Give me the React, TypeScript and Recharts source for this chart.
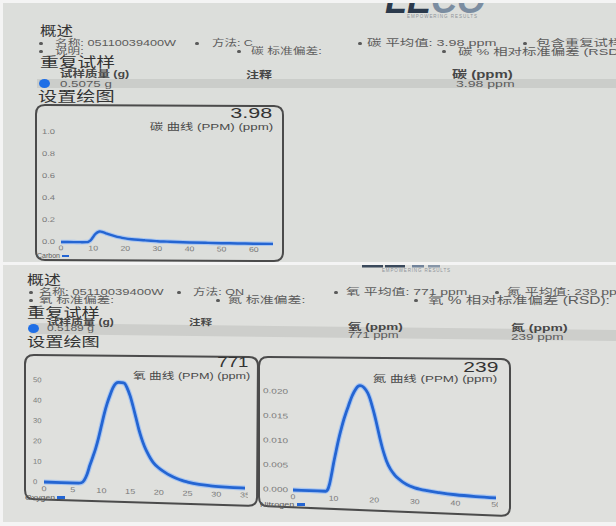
import React from 'react';
import { LineChart, Line, XAxis, YAxis } from 'recharts';

const FONT = '"Liberation Sans", "Noto Sans CJK SC", Arial, sans-serif';
const W = 616;
const H = 526;

// ---- Carbon (碳) trace ----
const carbonTime = [0, 2, 4, 6, 8, 8.5, 9, 9.5, 10, 10.5, 11, 11.5, 12, 12.5, 13, 14, 15, 16, 17, 18, 19, 20, 22, 24, 26, 28, 30, 33, 36, 40, 45, 50, 55, 60, 66];
const carbonPpm = [0, 0, 0, 0, 0.001, 0.004, 0.012, 0.028, 0.048, 0.068, 0.083, 0.093, 0.098, 0.097, 0.093, 0.083, 0.073, 0.064, 0.056, 0.049, 0.043, 0.038, 0.031, 0.026, 0.022, 0.018, 0.015, 0.012, 0.009, 0.006, 0.004, 0.002, 0.001, 0, 0];
const carbonXTicks = [0, 10, 20, 30, 40, 50, 60];
const carbonYTicks = [0, 0.2, 0.4, 0.6, 0.8, 1.0];

// ---- Oxygen (氧) trace ----
const oxygenTime = [0, 3, 6, 6.5, 7, 7.5, 8, 8.5, 9, 9.5, 10, 10.5, 11, 11.5, 12, 12.5, 13, 13.5, 14, 14.5, 15, 15.5, 16, 16.5, 17, 17.5, 18, 18.5, 19, 20, 21, 22, 23, 24, 25, 27, 29, 31, 33, 35];
const oxygenPpm = [0, 0, 0, 0.2, 1.5, 4.5, 9, 13, 17.3, 22.5, 28.5, 34.5, 39.5, 43.6, 47.2, 49.4, 50, 49.9, 49.6, 47.2, 43.5, 38.5, 33, 27.4, 22.8, 19, 16, 13.4, 11.3, 8.6, 6.7, 5.1, 3.9, 2.9, 2.2, 1.2, 0.7, 0.4, 0.2, 0.1];
const oxygenXTicks = [0, 5, 10, 15, 20, 25, 30, 35];
const oxygenYTicks = [0, 10, 20, 30, 40, 50];

// ---- Nitrogen (氮) trace ----
const nitrogenTime = [0, 4, 8, 8.5, 9, 9.5, 10, 10.5, 11, 11.5, 12, 12.5, 13, 13.5, 14, 14.5, 15, 15.5, 16, 16.5, 17, 17.5, 18, 18.5, 19, 19.5, 20, 20.5, 21, 21.5, 22, 22.5, 23, 24, 25, 26, 28, 30, 33, 36, 40, 45, 50];
const nitrogenPpm = [0, 0, 0, 0.0003, 0.0015, 0.0035, 0.0058, 0.0078, 0.0098, 0.0116, 0.0132, 0.0147, 0.016, 0.0172, 0.0184, 0.0195, 0.0204, 0.0211, 0.0216, 0.0218, 0.0217, 0.0214, 0.0209, 0.0202, 0.0191, 0.0177, 0.0162, 0.0145, 0.0127, 0.0109, 0.0093, 0.0079, 0.0067, 0.005, 0.0039, 0.0031, 0.002, 0.0014, 0.0009, 0.0006, 0.0003, 0.0001, 0];
const nitrogenXTicks = [0, 10, 20, 30, 40, 50];
const nitrogenYTicks = [0, 0.005, 0.01, 0.015, 0.02];

const zip = (t: number[], v: number[]) => t.map((x, i) => ({ t: x, v: v[i] }));
const carbonData = zip(carbonTime, carbonPpm);
const oxygenData = zip(oxygenTime, oxygenPpm);
const nitrogenData = zip(nitrogenTime, nitrogenPpm);

type TProps = { x: number; y: number; s: number; c?: string; b?: boolean; sx?: number; right?: boolean; children: React.ReactNode };
function T({ x, y, s, c = '#5c5c5c', b = false, sx = 1.45, right = false, children }: TProps) {
  const lh = Math.round(s * 1.3);
  const style: React.CSSProperties = {
    position: 'absolute', top: y - lh / 2, lineHeight: lh + 'px', height: lh, fontSize: s, color: c,
    fontWeight: b ? 700 : 400, whiteSpace: 'nowrap', fontFamily: FONT,
    transform: `scaleX(${sx})`, transformOrigin: right ? 'right center' : 'left center',
  };
  if (right) style.right = W - x; else style.left = x;
  return <div style={style}>{children}</div>;
}

const Bullet = ({ x, y }: { x: number; y: number }) => (
  <div style={{ position: 'absolute', left: x - 1.6, top: y - 1.5, width: 3.2, height: 3, borderRadius: 2, background: '#5a5a5a' }} />
);

type TraceProps = {
  left: number; top: number; width: number; height: number;
  margin: { top: number; right: number; bottom: number; left: number };
  yAxisWidth: number; xAxisHeight: number;
  data: { t: number; v: number }[];
  xDomain: [number, number]; xTicks: number[];
  yDomain: [number, number]; yTicks: number[];
  yFmt: (v: number) => string;
  yLabelDx: number; xLabelDy: number; yFont: number; xFont: number; ySx: number; xSx: number;
  skew: number; halo: number; lineW: number;
};

function Trace(p: TraceProps) {
  const ox = p.margin.left + p.yAxisWidth;
  const oy = p.height - p.margin.bottom - p.xAxisHeight;
  return (
    <div style={{ position: 'absolute', left: p.left, top: p.top, width: p.width, height: p.height + 14, overflow: 'hidden' }}>
      <div style={{ transform: `skewY(${p.skew}deg)`, transformOrigin: `${ox}px ${oy}px` }}>
        <LineChart width={p.width} height={p.height} data={p.data} margin={p.margin}>
          <XAxis
            dataKey="t" type="number" domain={p.xDomain} ticks={p.xTicks} interval={0}
            axisLine={false} tickLine={false} tickSize={0} tickMargin={0} height={p.xAxisHeight}
            tick={(tp: any) => (
              <text transform={`translate(${tp.x},${tp.y + p.xLabelDy}) scale(${p.xSx},1)`} x={0} y={0}
                textAnchor="middle" dominantBaseline="central"
                fontSize={p.xFont} fill="#7a7a7a" fontFamily={FONT}>{String(tp.payload.value)}</text>
            )}
          />
          <YAxis
            type="number" domain={p.yDomain} ticks={p.yTicks} interval={0}
            axisLine={false} tickLine={false} tickSize={0} tickMargin={0} width={p.yAxisWidth}
            tick={(tp: any) => (
              <text transform={`translate(${tp.x - p.yLabelDx},${tp.y}) scale(${p.ySx},1)`} x={0} y={0}
                textAnchor="start" dominantBaseline="central"
                fontSize={p.yFont} fill="#7a7a7a" fontFamily={FONT}>{p.yFmt(tp.payload.value)}</text>
            )}
          />
          <Line dataKey="v" type="monotone" stroke="#a8c5f0" strokeWidth={p.halo} dot={false} activeDot={false} isAnimationActive={false} />
          <Line dataKey="v" type="monotone" stroke="#2465d2" strokeWidth={p.lineW} dot={false} activeDot={false} isAnimationActive={false} />
        </LineChart>
      </div>
    </div>
  );
}

type Pt = [number, number];
function roundedQuad(pts: Pt[], r: number) {
  const u = (a: Pt, b: Pt): Pt => {
    const dx = b[0] - a[0], dy = b[1] - a[1];
    const l = Math.hypot(dx, dy);
    return [dx / l, dy / l];
  };
  const n = pts.length;
  const at = (i: number) => pts[(i + n) % n];
  const s0 = u(at(0), at(1));
  let d = `M${at(0)[0] + r * s0[0]},${at(0)[1] + r * s0[1]}`;
  for (let k = 1; k <= n; k++) {
    const P = at(k);
    const a = u(P, at(k - 1));
    const b = u(P, at(k + 1));
    d += ` L${P[0] + r * a[0]},${P[1] + r * a[1]} Q${P[0]},${P[1]} ${P[0] + r * b[0]},${P[1] + r * b[1]}`;
  }
  return d + ' Z';
}

const DOT = '#1f6fe6';
const BLUE = '#2465d2';

export default function App() {
  return (
    <div style={{ position: 'absolute', left: 0, top: 0, width: W, height: H, overflow: 'hidden', background: '#f4f4f4', fontFamily: FONT }}>
      {/* top panel */}
      <div style={{ position: 'absolute', left: 3, top: 3, width: 613, height: 259, background: '#dcdedb', overflow: 'hidden' }}>
        <svg width={613} height={259} style={{ position: 'absolute', left: 0, top: 0 }}>
          <text x={382} y={9.7} fontSize={36} fontWeight={700} fontStyle="italic" fontFamily={FONT}>
            <tspan fill="#2b3a4c">LE</tspan><tspan fill="#7b8da1">CO</tspan>
          </text>
          <text x={404} y={13.7} fontSize={4.5} textLength={70} fill="#8d9399" dominantBaseline="central" fontFamily={FONT}>EMPOWERING RESULTS</text>
          <rect x={34} y={76} width={579} height={9} fill="#cbcdca" />
        </svg>
      </div>
      {/* bottom panel */}
      <div style={{ position: 'absolute', left: 3, top: 265, width: 613, height: 257, background: '#dfe0dd', overflow: 'hidden' }}>
        <svg width={613} height={257} style={{ position: 'absolute', left: 0, top: 0 }}>
          <rect x={359} y={0} width={21} height={2.5} fill="#3a495b" />
          <rect x={382} y={0} width={20} height={2.5} fill="#3a495b" />
          <rect x={409} y={0} width={12} height={2.5} fill="#71839a" />
          <rect x={425} y={0} width={12} height={2.5} fill="#8796a8" />
          <text x={379} y={5.7} fontSize={4.5} textLength={68} fill="#8d9399" dominantBaseline="central" fontFamily={FONT}>EMPOWERING RESULTS</text>
          <polygon points="27,58 613,65 613,76 27,69" fill="#cdcecb" />
        </svg>
      </div>

      {/* chart frames */}
      <svg width={W} height={H} style={{ position: 'absolute', left: 0, top: 0 }}>
        <path d={roundedQuad([[36, 105], [283, 106], [283, 261], [36, 260]], 9)} fill="none" stroke="#4b4b4b" strokeWidth={2} />
        <path d={roundedQuad([[25, 355], [258, 357], [257, 506], [25, 499]], 9)} fill="none" stroke="#4b4b4b" strokeWidth={2} />
        <path d={roundedQuad([[259, 357], [510, 359], [510, 516], [259, 506]], 9)} fill="none" stroke="#4b4b4b" strokeWidth={2} />
      </svg>

      {/* ===== top text ===== */}
      <T x={40} y={30} s={13} c="#333" sx={1.27}>概述</T>
      <Bullet x={41} y={43} />
      <T x={55} y={43} s={8.75}>名称: 05110039400W</T>
      <Bullet x={197} y={43} />
      <T x={211.5} y={43} s={8.6}>方法: C</T>
      <Bullet x={360} y={43} />
      <T x={367} y={43} s={9.6} sx={1.5}>碳 平均值: 3.98 ppm</T>
      <Bullet x={525} y={43} />
      <T x={536} y={43} s={9.6} sx={1.5}>包含重复试样</T>
      <Bullet x={41} y={51.5} />
      <T x={55} y={51.5} s={8.7}>说明:</T>
      <Bullet x={239} y={51.5} />
      <T x={251} y={51.5} s={8.8}>碳 标准偏差:</T>
      <Bullet x={444} y={51.5} />
      <T x={458} y={51.5} s={9.6} sx={1.5}>碳 % 相对标准偏差 (RSD):</T>
      <T x={40} y={63} s={13.5} c="#333" sx={1.39}>重复试样</T>
      <T x={60} y={74.5} s={8.6} c="#474747" b>试样质量 (g)</T>
      <T x={246} y={74.5} s={9} c="#474747" b>注释</T>
      <T x={452} y={74.5} s={10} c="#474747" b sx={1.5}>碳 (ppm)</T>
      <div style={{ position: 'absolute', left: 38.5, top: 79, width: 11, height: 9, borderRadius: '50%', background: DOT }} />
      <T x={60} y={83.5} s={9.2}>0.5075 g</T>
      <T x={456} y={83.5} s={9.4} sx={1.5}>3.98 ppm</T>
      <T x={38} y={97} s={13.5} c="#333" sx={1.42}>设置绘图</T>

      {/* carbon chart */}
      <T x={272} y={113} s={14} c="#333" sx={1.54} right>3.98</T>
      <T x={273} y={127} s={9.5} c="#4a4a4a" sx={1.4} right>碳 曲线 (PPM) (ppm)</T>
      <Trace
        left={36} top={105} width={247} height={156}
        margin={{ top: 27, right: 10, bottom: 7, left: 0 }} yAxisWidth={25} xAxisHeight={12}
        data={carbonData} xDomain={[0, 66]} xTicks={carbonXTicks}
        yDomain={[0, 1]} yTicks={carbonYTicks} yFmt={(v) => v.toFixed(1)}
        yLabelDx={19} xLabelDy={6} yFont={7} xFont={7} ySx={1.34} xSx={1.25} skew={0.5} halo={4.5} lineW={2.4}
      />
      <T x={37} y={255.5} s={7} sx={1}>Carbon</T>
      <div style={{ position: 'absolute', left: 62, top: 254.5, width: 7, height: 2.5, background: BLUE }} />

      {/* ===== bottom text ===== */}
      <T x={27} y={279} s={13} c="#333" sx={1.3}>概述</T>
      <Bullet x={31} y={292} />
      <T x={39} y={292} s={9}>名称: 05110039400W</T>
      <Bullet x={179} y={292} />
      <T x={193} y={292} s={8.7}>方法: ON</T>
      <Bullet x={336} y={292} />
      <T x={346} y={292} s={9.6}>氧 平均值: 771 ppm</T>
      <Bullet x={497} y={292} />
      <T x={507} y={292} s={9.6}>氮 平均值: 239 ppm</T>
      <Bullet x={31} y={300} />
      <T x={39} y={300} s={9.3}>氧 标准偏差:</T>
      <Bullet x={218} y={300} />
      <T x={228} y={300} s={9.6}>氮 标准偏差:</T>
      <Bullet x={416} y={300} />
      <T x={428} y={300} s={10.3} sx={1.5}>氧 % 相对标准偏差 (RSD):</T>
      <T x={27} y={312.5} s={13} c="#333" sx={1.4}>重复试样</T>
      <T x={47} y={322} s={8.3} c="#474747" b>试样质量 (g)</T>
      <T x={189} y={323} s={8} c="#474747" b>注释</T>
      <T x={348} y={327} s={9} c="#474747" b sx={1.5}>氧 (ppm)</T>
      <T x={511} y={328} s={9.3} c="#474747" b sx={1.5}>氮 (ppm)</T>
      <div style={{ position: 'absolute', left: 27.5, top: 323.5, width: 11, height: 9, borderRadius: '50%', background: DOT }} />
      <T x={47} y={328} s={8.3}>0.5189 g</T>
      <T x={348} y={335} s={8.7} sx={1.5}>771 ppm</T>
      <T x={511} y={337} s={9} sx={1.5}>239 ppm</T>
      <T x={27} y={341} s={13} c="#333" sx={1.4}>设置绘图</T>

      {/* oxygen chart */}
      <T x={248} y={362} s={14} c="#333" sx={1.33} right>771</T>
      <T x={250} y={375.5} s={9.3} c="#4a4a4a" sx={1.36} right>氧 曲线 (PPM) (ppm)</T>
      <Trace
        left={25} top={355} width={223} height={145}
        margin={{ top: 25, right: 3, bottom: 6, left: 0 }} yAxisWidth={19} xAxisHeight={12}
        data={oxygenData} xDomain={[0, 35]} xTicks={oxygenXTicks}
        yDomain={[0, 50]} yTicks={oxygenYTicks} yFmt={(v) => String(v)}
        yLabelDx={11} xLabelDy={7} yFont={7} xFont={7} ySx={1.1} xSx={1.3} skew={1.8} halo={5} lineW={2.8}
      />
      <T x={25} y={497} s={7} sx={1.25}>Oxygen</T>
      <div style={{ position: 'absolute', left: 57, top: 496, width: 8, height: 2.5, background: BLUE }} />

      {/* nitrogen chart */}
      <T x={498} y={367} s={14} c="#333" sx={1.5} right>239</T>
      <T x={497} y={378.5} s={9.5} c="#4a4a4a" sx={1.41} right>氮 曲线 (PPM) (ppm)</T>
      <Trace
        left={259} top={357} width={239} height={150}
        margin={{ top: 25, right: 2, bottom: 5, left: 0 }} yAxisWidth={34} xAxisHeight={12}
        data={nitrogenData} xDomain={[0, 50]} xTicks={nitrogenXTicks}
        yDomain={[0, 0.022]} yTicks={nitrogenYTicks} yFmt={(v) => v.toFixed(3)}
        yLabelDx={30} xLabelDy={7} yFont={7} xFont={7} ySx={1.43} xSx={1.25} skew={2.2} halo={5} lineW={2.8}
      />
      <T x={260} y={504} s={7} sx={1.3}>Nitrogen</T>
      <div style={{ position: 'absolute', left: 297, top: 503, width: 8, height: 2.5, background: BLUE }} />
    </div>
  );
}
